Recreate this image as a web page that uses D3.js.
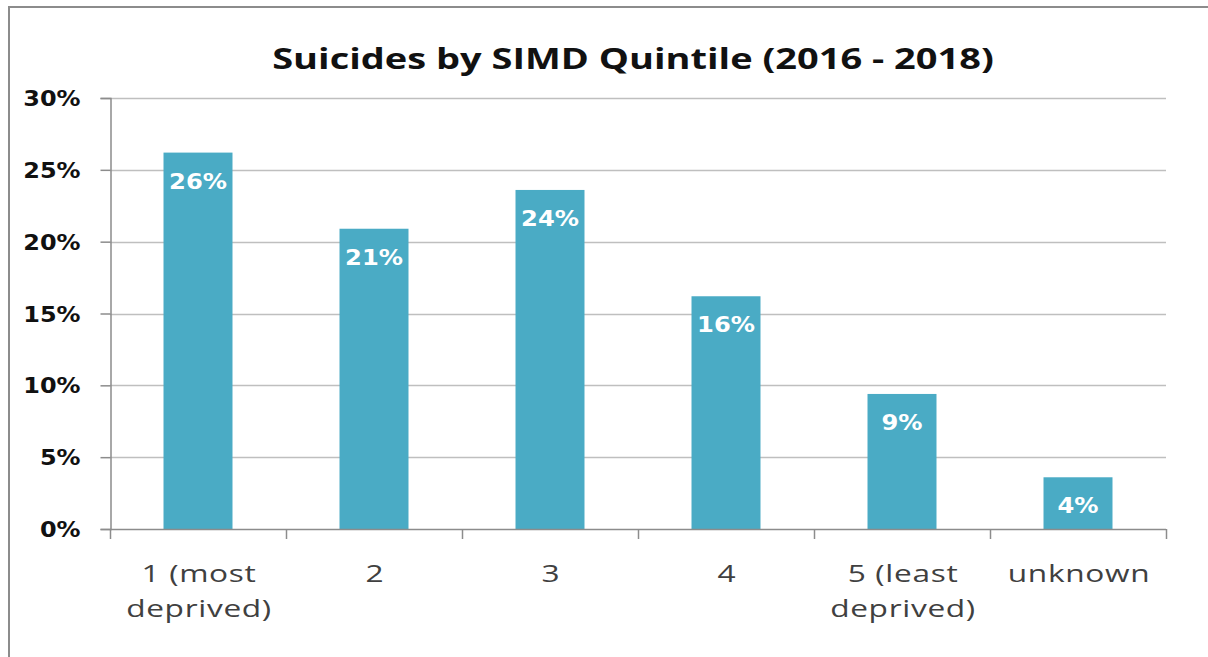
<!DOCTYPE html>
<html>
<head>
<meta charset="utf-8">
<script src="https://cdn.jsdelivr.net/npm/d3@7"></script>
<style>
  html, body { margin: 0; padding: 0; background: #fff; overflow: hidden; }
  svg { display: block; }
</style>
</head>
<body>
<svg id="chart" width="1208" height="657"></svg>
<script>
// Share of suicides by SIMD quintile, 2016-2018
const categories = [["1 (most", "deprived)"], ["2"], ["3"], ["4"], ["5 (least", "deprived)"], ["unknown"]];
const shares = [0.262, 0.209, 0.236, 0.162, 0.094, 0.036];
const yTicks = [0, 0.05, 0.10, 0.15, 0.20, 0.25, 0.30];
const title = "Suicides by SIMD Quintile (2016 - 2018)";

const svg = d3.select("#chart");
const W = 1208, H = 657;
const plot = { left: 110, right: 1166, top: 98, bottom: 529 };

// text in this chart is set in a horizontally widened face
const wideTitle = 1.31, wideCat = 1.32, wideAxis = 1.14, wideValue = 1.1;

// outer chart frame: only its top and left edges fall inside the view
const frame = svg.append("g").attr("stroke", "#8c8c8c").attr("stroke-width", 2);
frame.append("line").attr("x1", 8).attr("x2", W).attr("y1", 7).attr("y2", 7);
frame.append("line").attr("x1", 9).attr("x2", 9).attr("y1", 6).attr("y2", H);

const keys = categories.map((c, i) => i);
const x = d3.scaleBand()
  .domain(keys)
  .range([plot.left, plot.right])
  .paddingInner(0.608)
  .paddingOuter(0.304);

const y = d3.scaleLinear()
  .domain([0, 0.30])
  .range([plot.bottom, plot.top]);

const pct = d3.format(".0%");

// horizontal gridlines
svg.append("g")
  .selectAll("line")
  .data(yTicks.filter(d => d > 0))
  .join("line")
  .attr("x1", plot.left).attr("x2", plot.right)
  .attr("y1", d => Math.round(y(d)) + 0.5).attr("y2", d => Math.round(y(d)) + 0.5)
  .attr("stroke", "#bfbfbf").attr("stroke-width", 1.5);

// y axis
const yAxis = d3.axisLeft(y)
  .tickValues(yTicks)
  .tickFormat(pct)
  .tickSize(10)
  .tickPadding(20);
const gy = svg.append("g")
  .attr("transform", `translate(${plot.left + 0.5},0)`)
  .call(yAxis);
gy.select(".domain").attr("stroke", "#8c8c8c").attr("stroke-width", 1.5);
gy.selectAll(".tick line").attr("stroke", "#8c8c8c").attr("stroke-width", 1.5);
gy.selectAll(".tick text")
  .attr("fill", "#111")
  .attr("x", -30 / wideAxis)
  .attr("transform", `scale(${wideAxis},1)`)
  .style("font-family", "'DejaVu Sans', sans-serif")
  .style("font-weight", "bold")
  .style("font-size", "21px")
  .attr("dy", "0.36em");

// bars
svg.append("g")
  .selectAll("rect")
  .data(shares)
  .join("rect")
  .attr("x", (d, i) => x(i))
  .attr("width", x.bandwidth())
  .attr("y", d => y(d))
  .attr("height", d => y(0) - y(d))
  .attr("fill", "#4aabc5");

// value labels inside bar tops
svg.append("g")
  .selectAll("text")
  .data(shares)
  .join("text")
  .attr("transform", (d, i) => `translate(${x(i) + x.bandwidth() / 2},${y(d) + 36}) scale(${wideValue},1)`)
  .attr("text-anchor", "middle")
  .attr("fill", "#fff")
  .style("font-family", "'DejaVu Sans', sans-serif")
  .style("font-weight", "bold")
  .style("font-size", "22px")
  .text(d => pct(d));

// x axis baseline and tick marks at category boundaries
const step = x.step();
const xg = svg.append("g");
xg.append("line")
  .attr("x1", plot.left).attr("x2", plot.right)
  .attr("y1", plot.bottom + 0.5).attr("y2", plot.bottom + 0.5)
  .attr("stroke", "#8c8c8c").attr("stroke-width", 1.5);
xg.selectAll("line.tick")
  .data(d3.range(keys.length + 1))
  .join("line")
  .attr("class", "tick")
  .attr("x1", i => plot.left + i * step + 0.5).attr("x2", i => plot.left + i * step + 0.5)
  .attr("y1", plot.bottom).attr("y2", plot.bottom + 10)
  .attr("stroke", "#8c8c8c").attr("stroke-width", 1.5);

// category labels
const catText = xg.selectAll("text")
  .data(categories)
  .join("text")
  .attr("transform", (d, i) => `translate(${x(i) + x.bandwidth() / 2 + 1},582) scale(${wideCat},1)`)
  .attr("text-anchor", "middle")
  .attr("fill", "#404040")
  .style("font-family", "'Open Sans', sans-serif")
  .style("font-size", "24px")
  .style("letter-spacing", "0.5px");
catText.selectAll("tspan")
  .data(d => d)
  .join("tspan")
  .attr("x", 0)
  .attr("dy", (d, i) => i === 0 ? 0 : 35)
  .text(d => d);

// title
svg.append("text")
  .attr("transform", `translate(633,69) scale(${wideTitle},1)`)
  .attr("text-anchor", "middle")
  .attr("fill", "#111")
  .style("font-family", "'Open Sans', sans-serif")
  .style("font-weight", "bold")
  .style("font-size", "29px")
  .text(title);
</script>
</body>
</html>
